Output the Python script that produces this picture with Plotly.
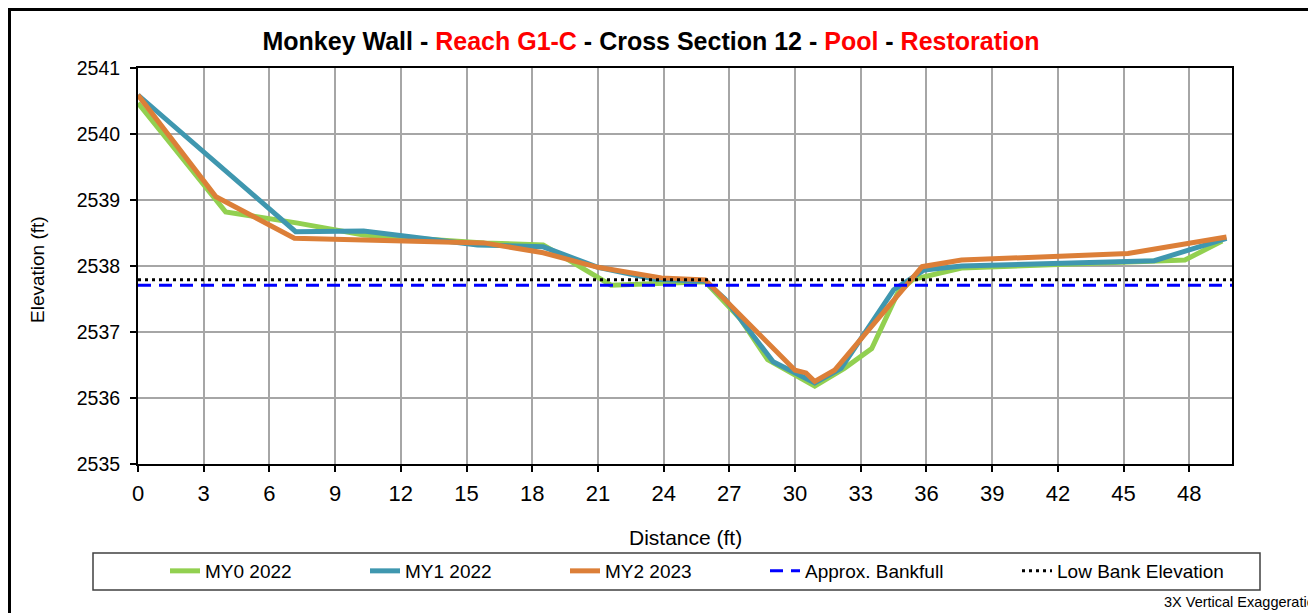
import plotly.graph_objects as go

# ---------------- data ----------------
my0_x = [0, 4.0, 7.3, 10.3, 15.8, 18.5, 21.6, 25.9, 27.5, 28.75, 30.9, 32.25, 33.5, 34.7, 35.4, 37.6, 47.8, 49.5]
my0_y = [2540.47, 2538.82, 2538.65, 2538.47, 2538.35, 2538.32, 2537.71, 2537.76, 2537.2, 2536.58,
         2536.18, 2536.45, 2536.75, 2537.6, 2537.8, 2537.97, 2538.09, 2538.38]

my1_x = [0, 7.2, 10.3, 15.5, 18.5, 21.0, 23.6, 25.9, 26.8, 29.0, 30.9, 32.1, 34.5, 35.9, 37.6, 46.4, 49.7]
my1_y = [2540.59, 2538.52, 2538.53, 2538.32, 2538.29, 2537.98, 2537.8, 2537.77, 2537.5, 2536.55,
         2536.23, 2536.45, 2537.64, 2537.94, 2538.0, 2538.08, 2538.42]

my2_x = [0, 3.56, 7.14, 10.3, 15.8, 18.5, 21.0, 23.9, 25.9, 30.0, 30.5, 30.9, 31.8, 35.8, 37.6, 45.2, 49.7]
my2_y = [2540.59, 2539.05, 2538.42, 2538.40, 2538.35, 2538.2, 2537.98, 2537.82, 2537.79, 2536.42,
         2536.38, 2536.25, 2536.42, 2537.99, 2538.09, 2538.19, 2538.44]

bank_x = [0, 49.95]
bankfull_y = [2537.71, 2537.71]
lowbank_y = [2537.79, 2537.79]

x_ticks = list(range(0, 49, 3))
y_ticks = [2535, 2536, 2537, 2538, 2539, 2540, 2541]

FONT = "Arial, 'Liberation Sans', sans-serif"

fig = go.Figure()
fig.add_trace(go.Scatter(x=my0_x, y=my0_y, mode="lines", name="MY0 2022",
                         line=dict(color="#92D050", width=5), legend="legend"))
fig.add_trace(go.Scatter(x=my1_x, y=my1_y, mode="lines", name="MY1 2022",
                         line=dict(color="#3F97AF", width=5), legend="legend"))
fig.add_trace(go.Scatter(x=my2_x, y=my2_y, mode="lines", name="MY2 2023",
                         line=dict(color="#DC7F38", width=5), legend="legend"))
fig.add_trace(go.Scatter(x=bank_x, y=bankfull_y, mode="lines", name="Approx. Bankfull",
                         line=dict(color="#0000FF", width=3, dash="13px,8px"), legend="legend"))
fig.add_trace(go.Scatter(x=bank_x, y=lowbank_y, mode="lines", name="Low Bank Elevation",
                         line=dict(color="#000000", width=3, dash="3px,4px"), legend="legend2"))

# page has an 8px body margin, so the figure is offset by 8px in the screenshot
OFF = 8
W, H = 1316 - OFF, 613 - OFF
L, R, T, B = 138 - OFF, 84, 68 - OFF, 149
pw, ph = W - L - R, H - T - B


def px(sx):
    return (sx - OFF - L) / pw


def py(sy):
    return (H - B - (sy - OFF)) / ph


title_text = ("<b>Monkey Wall - <span style='color:#FF0000'>Reach G1-C</span> - Cross Section 12 - "
              "<span style='color:#FF0000'>Pool</span> - <span style='color:#FF0000'>Restoration</span></b>")

fig.update_layout(
    width=W, height=H,
    margin=dict(l=L, r=R, t=T, b=B, autoexpand=False),
    paper_bgcolor="white", plot_bgcolor="white",
    font=dict(family=FONT, color="black"),
    title=dict(text=title_text, x=(651 - OFF) / W, xref="container", xanchor="center",
               y=1 - (41 - OFF) / H, yref="container", yanchor="middle",
               font=dict(size=25, family=FONT, color="black")),
    showlegend=True,
    legend=dict(orientation="h", x=px(165), xanchor="left", y=py(571), yanchor="middle",
                font=dict(size=19, family=FONT), entrywidth=155, entrywidthmode="pixels",
                bgcolor="rgba(0,0,0,0)", borderwidth=0),
    legend2=dict(orientation="h", x=px(1017), xanchor="left", y=py(571), yanchor="middle",
                 font=dict(size=19, family=FONT),
                 bgcolor="rgba(0,0,0,0)", borderwidth=0),
    xaxis=dict(range=[0, 49.95], tickvals=x_ticks, ticktext=[str(v) for v in x_ticks],
               showgrid=True, gridcolor="#A6A6A6", gridwidth=1.5,
               showline=True, linecolor="black", linewidth=2, mirror=True,
               ticks="outside", ticklen=6, tickcolor="black", tickwidth=1.5,
               ticklabelstandoff=3,
               tickfont=dict(size=22, family=FONT), zeroline=False),
    yaxis=dict(range=[2535, 2541], tickvals=y_ticks, ticktext=[str(v) for v in y_ticks],
               showgrid=True, gridcolor="#A6A6A6", gridwidth=1.5,
               showline=True, linecolor="black", linewidth=2, mirror=True,
               ticks="outside", ticklen=6, tickcolor="black", tickwidth=1.5,
               ticklabelstandoff=6,
               tickfont=dict(size=19.5, family=FONT), zeroline=False),
    shapes=[
        # outer chart border
        dict(type="rect", xref="paper", yref="paper",
             x0=px(9), x1=px(1340), y0=py(640), y1=py(9),
             line=dict(color="black", width=4), fillcolor="rgba(0,0,0,0)", layer="above"),
        # legend box
        dict(type="rect", xref="paper", yref="paper",
             x0=px(93), x1=px(1260), y0=py(590), y1=py(553),
             line=dict(color="#404040", width=1.5), fillcolor="rgba(0,0,0,0)", layer="above"),
    ],
    annotations=[
        dict(text="Distance (ft)", xref="paper", yref="paper", x=px(685), y=py(537),
             xanchor="center", yanchor="middle", showarrow=False,
             font=dict(size=21, family=FONT)),
        dict(text="Elevation (ft)", xref="paper", yref="paper", x=px(37), y=py(270),
             xanchor="center", yanchor="middle", showarrow=False, textangle=-90,
             font=dict(size=19, family=FONT)),
        dict(text="3X Vertical Exaggeration", xref="paper", yref="paper", x=px(1162), y=py(602),
             xanchor="left", yanchor="middle", showarrow=False,
             font=dict(size=14.5, family=FONT)),
    ],
)

fig.write_html("out.html")
